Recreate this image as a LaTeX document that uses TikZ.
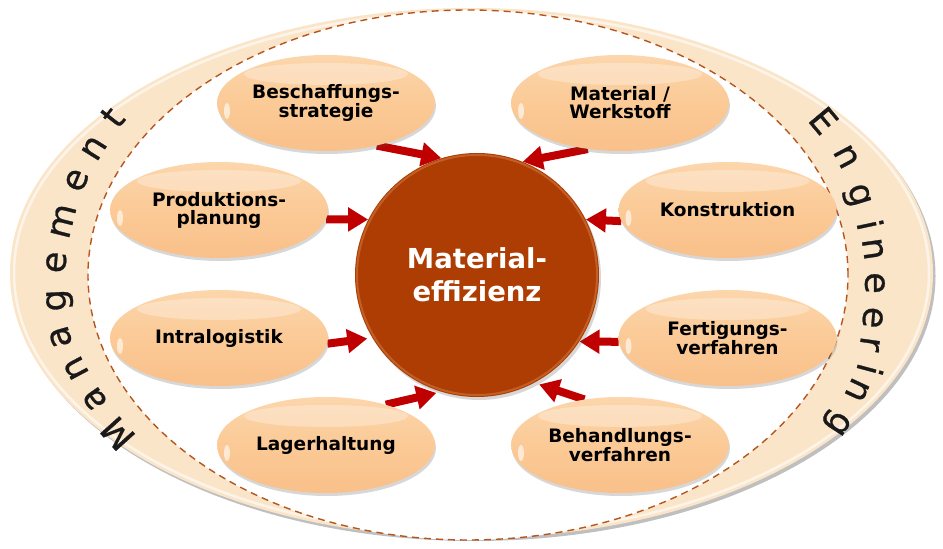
\documentclass[tikz,border=0pt]{standalone}
\usepackage{fontspec}
\setmainfont{DejaVu Sans}
\newfontface\bandfont{DejaVu Sans}[FakeBold=0.8]
\usetikzlibrary{shapes.geometric,arrows.meta,shadows,calc}
\pgfdeclarelayer{back}
\pgfdeclarelayer{mid}
\pgfsetlayers{back,mid,main}
\definecolor{bandcol}{HTML}{FBE5C9}
\definecolor{dashcol}{HTML}{B4561E}
\definecolor{peach}{HTML}{FBCA96}
\definecolor{peachlight}{HTML}{FCD6AC}
\definecolor{peachdark}{HTML}{F9C08A}
\definecolor{rust}{HTML}{AD3D03}
\definecolor{rustlight}{HTML}{D8814A}
\definecolor{arrred}{HTML}{C00000}
\begin{document}
\begin{tikzpicture}[x=1pt,y=1pt,
  sat/.style={ellipse, minimum width=218pt, minimum height=96pt, inner sep=0pt,
    top color=peachlight, bottom color=peachdark, middle color=peach,
    align=center, font=\fontsize{18.5}{18}\selectfont\bfseries,
    drop shadow={shadow xshift=1pt, shadow yshift=-3pt, opacity=0.22, fill=black!70},
    path picture={
      \fill[white,opacity=0.3] ($(path picture bounding box.center)+(0,29)$) ellipse [x radius=82pt, y radius=11pt];
      \fill[white,opacity=0.6] ($(path picture bounding box.west)+(10,-8)$) ellipse [x radius=3pt, y radius=8pt];
    }},
  hub/.style={circle, minimum size=244pt, inner sep=0pt, fill=rust,
    text=white, align=center, font=\fontsize{27.5}{33}\selectfont\bfseries,
    drop shadow={shadow xshift=2pt, shadow yshift=-3pt, opacity=0.22, fill=black!70},
    path picture={
      \draw[rustlight, line width=2pt, opacity=0.5] (path picture bounding box.center) circle [radius=120pt];
    }},
  arr/.style={draw=arrred, line width=8pt, -{Triangle[length=20pt,width=23pt]}},
  ltr/.style={font=\bandfont\fontsize{35}{35}\selectfont, text=black!90, inner sep=0pt, text height=0.55em, text depth=0pt, anchor=center}
]
\useasboundingbox (0,0) rectangle (943,549);

% outer band and dashed inner ellipse
\begin{pgfonlayer}{back}
  \fill[black, opacity=0.25] (474,273) ellipse [x radius=461.5, y radius=265];
  \fill[bandcol] (471.5,276) ellipse [x radius=461.5, y radius=265];
  \draw[white, opacity=0.6, line width=2.5pt] (471.5,276) ellipse [x radius=457.5, y radius=261];
  \fill[white] (468,274) ellipse [x radius=380, y radius=265];
  \draw[dashcol, line width=1.4pt, dash pattern=on 7pt off 5pt] (468,274) ellipse [x radius=380, y radius=265];
\end{pgfonlayer}

% band letters
\foreach \l/\x/\y/\r [count=\i] in {M/125/122/132, a/100/154/125, n/82/184/118, a/67/214/106, g/63/249/93, e/63/286/85, m/70/326/76, e/83/366/67, n/100/397/58, t/120/426/52}
  \node[ltr, rotate=\r] (ml\i) at (\x,\y) {\l};
\foreach \l/\x/\y/\r [count=\i] in {E/816/422/-50, n/840/389/-62, g/853/352/-73, i/860/322/-78, n/866/299/-82, e/868/266/-90, e/866/232/-95, r/863/206/-98, i/860/182/-105, n/851/162/-115, g/833/129/-123}
  \node[ltr, rotate=\r] (el\i) at (\x,\y) {\l};

% hub and satellites
\node[hub] (c) at (477,274) {Material-\\effizienz};
\node[sat] (besch) at (326,446) {Beschaffungs-\\strategie};
\node[sat] (prod) at (219,339) {Produktions-\\planung};
\node[sat] (intra) at (219,211) {Intralogistik};
\node[sat] (lager) at (326,104) {Lagerhaltung};
\node[sat] (mat) at (620,446) {Material /\\Werkstoff};
\node[sat] (konst) at (727.5,339) {Konstruktion};
\node[sat] (fert) at (727.5,211) {Fertigungs-\\verfahren};
\node[sat] (behand) at (620,104) {Behandlungs-\\verfahren};

% arrows
\begin{pgfonlayer}{mid}
  \draw[arr] (besch.-40) -- (c.107);
  \draw[arr] (mat.-125) -- (c.68);
  \draw[arr] (prod.-5) -- (c.153);
  \draw[arr] (konst.186) -- (c.27);
  \draw[arr, shorten >=5pt] (intra.-3) -- (c.211);
  \draw[arr] (fert.182) -- (c.-33);
  \draw[arr, shorten >=5pt] (lager.34) -- (c.253);
  \draw[arr, shorten >=5pt] (behand.128) -- (c.-62);
\end{pgfonlayer}
\end{tikzpicture}
\end{document}
